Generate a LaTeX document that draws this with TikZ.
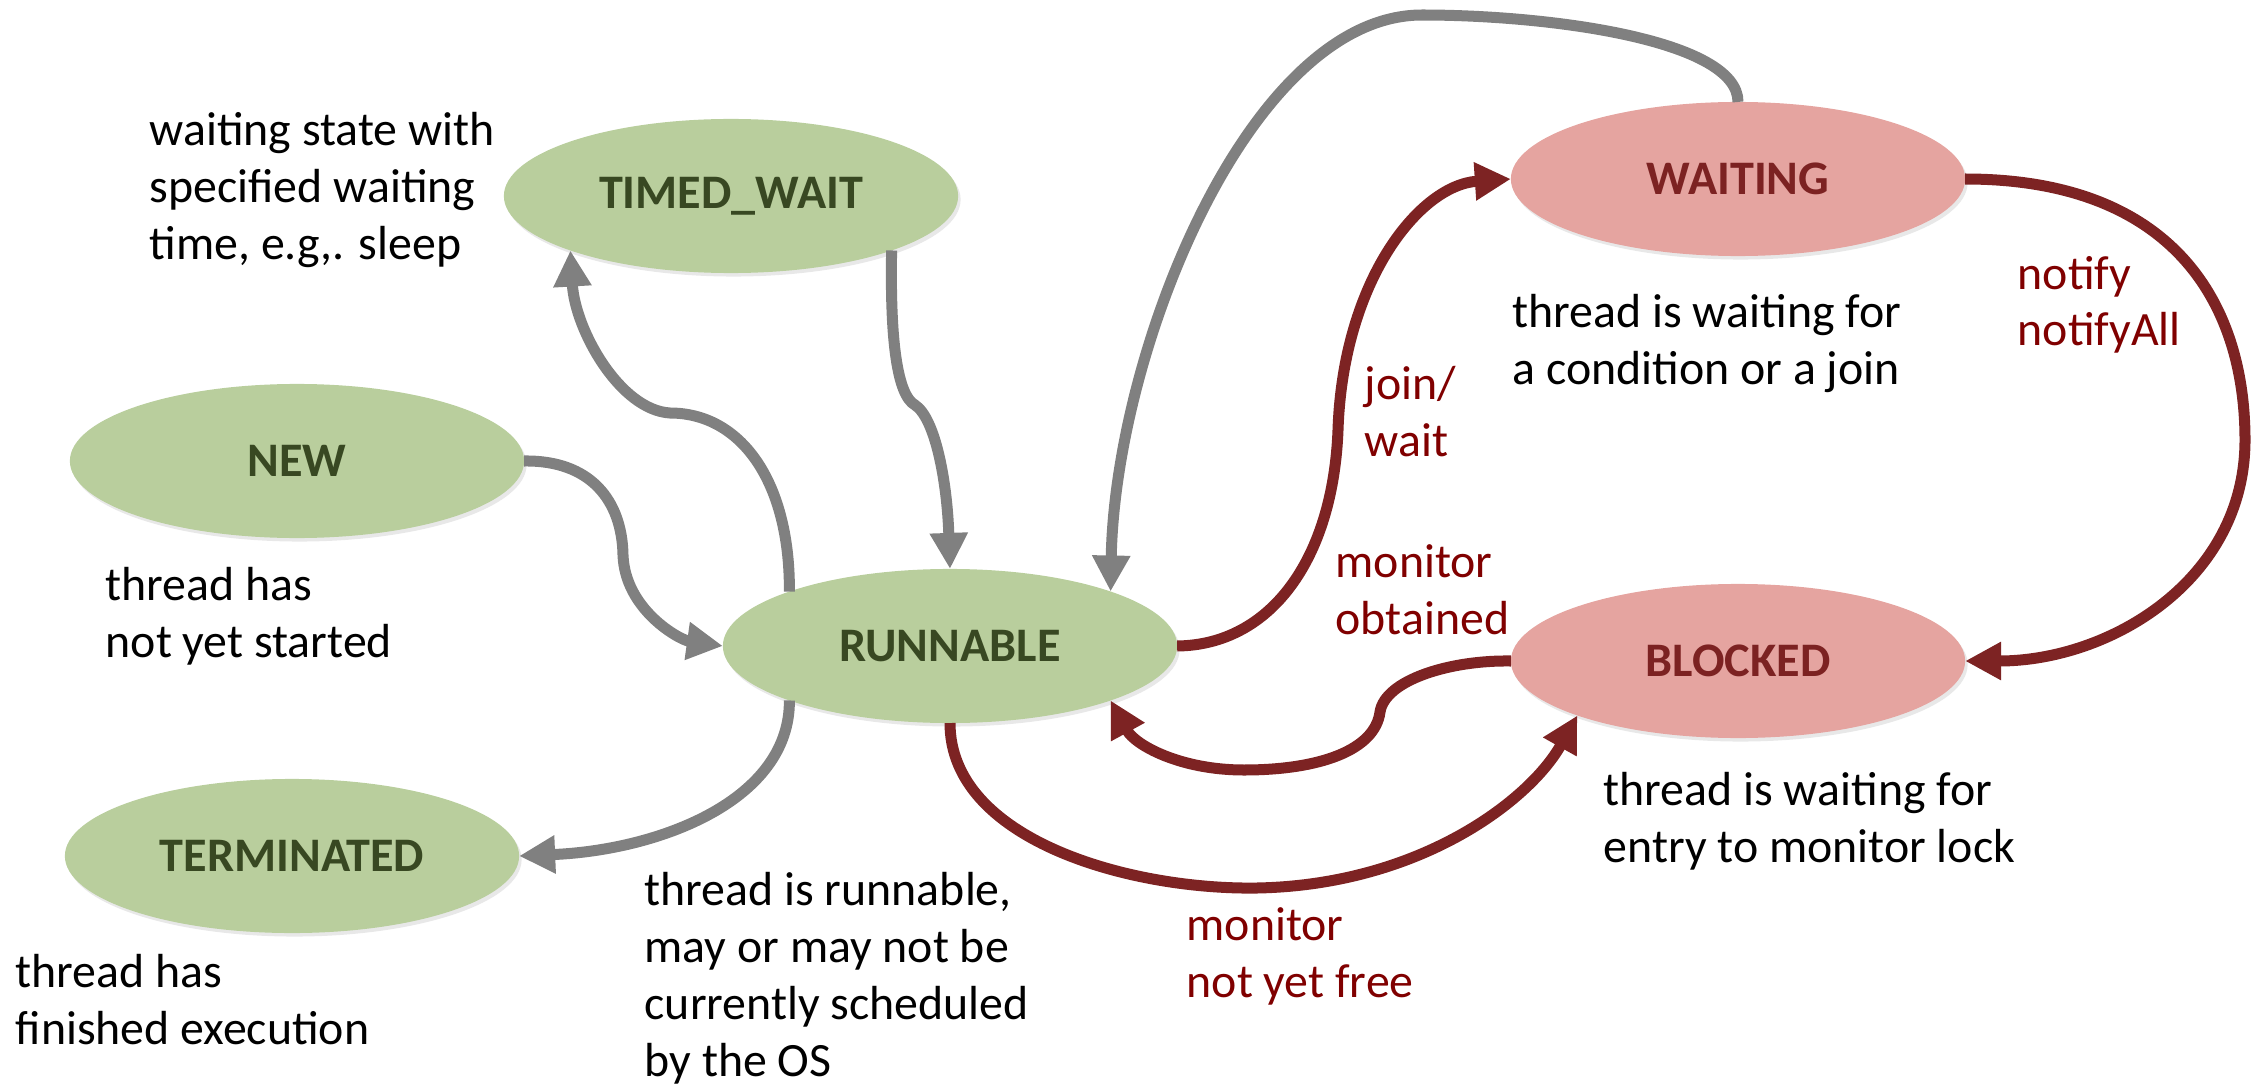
\documentclass[tikz,border=0pt]{standalone}
\usepackage{fontspec}
\setmainfont{Carlito}
\usetikzlibrary{arrows.meta,shapes.geometric,shadows}

\begin{document}
\begin{tikzpicture}[x=0.01cm,y=-0.01cm,
    state/.style={shape=ellipse,minimum width=4.54cm,minimum height=1.54cm,inner sep=0pt,outer sep=0pt,
        font=\fontsize{13.7pt}{16pt}\selectfont\bfseries,
        drop shadow={opacity=0.18,shadow xshift=0.025cm,shadow yshift=-0.035cm}},
    greenstate/.style={state,fill=thr_green,text=thr_greentext},
    redstate/.style={state,fill=thr_pink,text=thr_redtext},
    note/.style={anchor=base west,align=left,inner sep=0pt,font=\fontsize{13.6pt}{16.2pt}\selectfont},
    translabel/.style={note,text=thr_label},
    grayflow/.style={draw=thr_gray,line width=0.11cm,-{Triangle[length=0.36cm,width=0.36cm]}},
    redflow/.style={draw=thr_red,line width=0.11cm,-{Triangle[length=0.36cm,width=0.36cm]}}]
    \definecolor{thr_green}{RGB}{185,206,157}
    \definecolor{thr_greentext}{RGB}{56,72,34}
    \definecolor{thr_pink}{RGB}{229,164,160}
    \definecolor{thr_redtext}{RGB}{124,34,34}
    \definecolor{thr_red}{RGB}{125,35,35}
    \definecolor{thr_label}{RGB}{128,0,0}
    \definecolor{thr_gray}{RGB}{128,128,128}
    \useasboundingbox (0,0) rectangle (2254,1085);

    % states
    \node[greenstate] (timedwait)  at (731,196) {TIMED\_WAIT};
    \node[greenstate] (new)        at (297,461) {NEW};
    \node[greenstate] (runnable)   at (950,646) {RUNNABLE};
    \node[greenstate] (terminated) at (292,856) {TERMINATED};
    \node[redstate]   (waiting)    at (1738,179) {WAITING};
    \node[redstate]   (blocked)    at (1738,661) {BLOCKED};

    % descriptions (placed at the baseline of their last line)
    \node[note] (timednote) at (149,259)  {waiting state with\\specified waiting\\time, e.g,. sleep};
    \node[note] (newnote)   at (105,657)  {thread has\\not yet started};
    \node[note] (termnote)  at (15,1044)  {thread has\\finished execution};
    \node[note] (runnote)   at (644,1076) {thread is runnable,\\may or may not be\\currently scheduled\\by the OS};
    \node[note] (waitnote)  at (1512,384) {thread is waiting for\\a condition or a join};
    \node[note] (blocknote) at (1603,862) {thread is waiting for\\entry to monitor lock};

    % transition labels
    \node[translabel] (joinlbl)    at (1364,456) {join/\\wait};
    \node[translabel] (obtainlbl)  at (1335,634) {monitor\\obtained};
    \node[translabel] (notfreelbl) at (1186,997) {monitor\\not yet free};
    \node[translabel] (notifylbl)  at (2017,346) {notify\\notifyAll};

    % gray transitions
    \draw[grayflow] (new.east) .. controls (590,460) and (622,500) .. (623,555)
        .. controls (625,610) and (680,640) .. (runnable.west);
    \draw[grayflow] (runnable.north west) .. controls (790,480) and (740,413) .. (670,413)
        .. controls (620,410) and (575,330) .. (timedwait.south west);
    \draw[grayflow] (timedwait.south east) .. controls (890,340) and (897,395) .. (915,405)
        .. controls (935,418) and (947,480) .. (runnable.north);
    \draw[grayflow] (runnable.south west) .. controls (790,800) and (660,850) .. (terminated.east);
    \draw[grayflow] (waiting.north) .. controls (1738,40) and (1550,15) .. (1422,15)
        .. controls (1250,15) and (1115,350) .. (runnable.north east);

    % red transitions
    \draw[redflow] (runnable.east) .. controls (1270,645) and (1333,560) .. (1338,430)
        .. controls (1343,280) and (1420,185) .. (waiting.west);
    \draw[redflow] (waiting.east) .. controls (2170,179) and (2245,300) .. (2245,440)
        .. controls (2245,580) and (2110,661) .. (blocked.east);
    \draw[redflow] (blocked.west) .. controls (1450,660) and (1385,680) .. (1380,712)
        .. controls (1375,750) and (1320,770) .. (1244,770)
        .. controls (1180,770) and (1135,745) .. (runnable.south east);
    \draw[redflow] (runnable.south) .. controls (950,840) and (1130,890) .. (1257,888)
        .. controls (1420,885) and (1530,800) .. (blocked.south west);
\end{tikzpicture}
\end{document}
